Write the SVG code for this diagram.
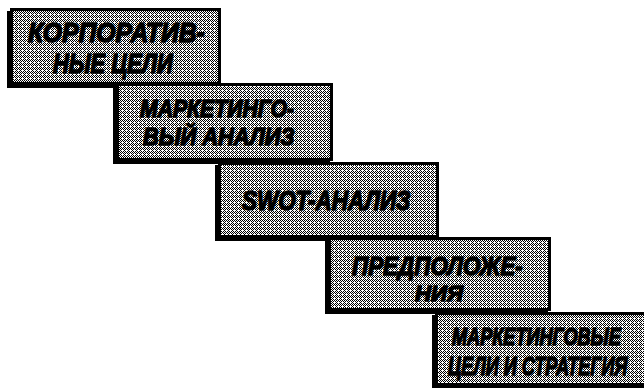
<svg xmlns="http://www.w3.org/2000/svg" width="644" height="388" viewBox="0 0 644 388">
  <defs>
    <pattern id="ht" width="4" height="4" patternUnits="userSpaceOnUse">
      <rect width="4" height="4" fill="#ffffff"/>
      <rect x="0" y="0" width="1" height="1" fill="#000"/>
      <rect x="2" y="0" width="1" height="1" fill="#000"/>
      <rect x="1" y="1" width="1" height="1" fill="#000"/>
      <rect x="3" y="1" width="1" height="1" fill="#000"/>
      <rect x="0" y="2" width="1" height="1" fill="#000"/>
      <rect x="3" y="3" width="1" height="1" fill="#000"/>
      <rect x="1" y="3" width="1" height="1" fill="#000"/>
    </pattern>
  </defs>
  <style>
    .sh { fill: #000; }
    .bx { fill: url(#ht); stroke: #000; stroke-width: 3; }
    .t { font-family: "Liberation Sans", Arial, sans-serif; font-weight: bold; font-style: italic; fill: #000; stroke: #000; stroke-width: 1.4; stroke-linejoin: round; }
  </style>
  <rect width="644" height="388" fill="#fff"/>
  <g id="connectors"/>
  <g id="node1">
    <rect class="sh" x="7" y="11" width="211" height="77"/>
    <rect class="bx" x="11.5" y="9.5" width="208" height="74"/>
    <text class="t" transform="translate(28,42) scale(0.85,1)" font-size="28" textLength="208" lengthAdjust="spacingAndGlyphs">КОРПОРАТИВ-</text>
    <text class="t" transform="translate(53,73) scale(0.82,1)" font-size="27" textLength="146" lengthAdjust="spacingAndGlyphs">НЫЕ ЦЕЛИ</text>
  </g>
  <g id="node2">
    <rect class="sh" x="113" y="86" width="217" height="78"/>
    <rect class="bx" x="117.5" y="84.5" width="214" height="75"/>
    <text class="t" transform="translate(140,117) scale(0.87,1)" font-size="24" textLength="177" lengthAdjust="spacingAndGlyphs">МАРКЕТИНГО-</text>
    <text class="t" transform="translate(143,145) scale(0.93,1)" font-size="24" textLength="163" lengthAdjust="spacingAndGlyphs">ВЫЙ АНАЛИЗ</text>
  </g>
  <g id="node3">
    <rect class="sh" x="215" y="165" width="221" height="76"/>
    <rect class="bx" x="219.5" y="163.5" width="218" height="73"/>
    <text class="t" transform="translate(242,210) scale(0.83,1)" font-size="27" textLength="203" lengthAdjust="spacingAndGlyphs">SWOT-АНАЛИЗ</text>
  </g>
  <g id="node4">
    <rect class="sh" x="325" y="240" width="223" height="74"/>
    <rect class="bx" x="329.5" y="238.5" width="220" height="71"/>
    <text class="t" transform="translate(352,275) scale(0.85,1)" font-size="26" textLength="201" lengthAdjust="spacingAndGlyphs">ПРЕДПОЛОЖЕ-</text>
    <text class="t" transform="translate(415,301)" font-size="22" textLength="48" lengthAdjust="spacingAndGlyphs">НИЯ</text>
  </g>
  <g id="node5">
    <rect class="sh" x="432" y="315" width="212" height="73"/>
    <rect class="bx" x="436.5" y="313.5" width="210" height="71"/>
    <text class="t" transform="translate(452,345) scale(0.74,1)" font-size="24" textLength="228" lengthAdjust="spacingAndGlyphs">МАРКЕТИНГОВЫЕ</text>
    <text class="t" transform="translate(448,375) scale(0.68,1)" font-size="26" textLength="264" lengthAdjust="spacingAndGlyphs">ЦЕЛИ И СТРАТЕГИЯ</text>
  </g>
</svg>
